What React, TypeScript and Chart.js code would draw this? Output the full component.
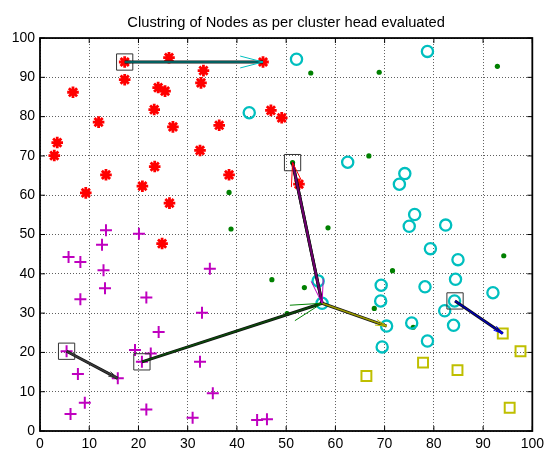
import React, { useEffect, useRef } from "react";
import { Chart, registerables } from "chart.js";

Chart.register(...registerables);

const TITLE = "Clustring of Nodes as per cluster head evaluated";
const axisTicks = [0, 10, 20, 30, 40, 50, 60, 70, 80, 90, 100];

// Red asterisk nodes
const redX = [17.2, 26.2, 45.3, 33.2, 17.2, 32.7, 24.0, 25.4, 6.7, 23.2, 11.9, 27.0, 36.4, 46.9, 49.1, 3.5, 2.9, 32.5, 13.4, 38.4, 23.3, 20.8, 9.3, 26.3, 24.8, 52.6];
const redY = [93.9, 95.0, 93.9, 91.7, 89.4, 88.6, 87.4, 86.5, 86.2, 81.8, 78.6, 77.4, 77.8, 81.6, 79.7, 73.4, 70.1, 71.4, 65.2, 65.2, 67.3, 62.3, 60.6, 58.0, 47.7, 62.8];

// Magenta plus nodes
const magentaX = [13.4, 20.1, 12.6, 5.8, 8.2, 12.9, 34.5, 13.2, 8.2, 21.6, 32.9, 24.1, 5.4, 19.3, 22.5, 20.7, 32.5, 7.7, 15.8, 35.1, 9.1, 21.6, 6.2, 31.0, 44.1, 46.1];
const magentaY = [51.1, 50.2, 47.4, 44.3, 43.0, 40.9, 41.3, 36.3, 33.5, 34.0, 30.1, 25.2, 20.3, 20.6, 19.7, 17.6, 17.6, 14.5, 13.4, 9.6, 7.2, 5.5, 4.3, 3.4, 2.8, 3.0];

// Cyan circle nodes
const cyanX = [52.1, 78.7, 42.5, 62.5, 74.1, 73.0, 76.1, 75.0, 82.4, 79.3, 84.9, 84.4, 78.2, 69.3, 69.2, 56.5, 57.3, 92.0, 84.2, 82.2, 75.5, 70.4, 84.0, 78.7, 69.5];
const cyanY = [94.6, 96.6, 81.0, 68.4, 65.5, 62.8, 55.1, 52.1, 52.4, 46.4, 43.6, 38.6, 36.7, 37.1, 33.1, 38.2, 32.5, 35.2, 33.1, 30.6, 27.5, 26.7, 26.9, 22.9, 21.4];

// Green dot nodes
const greenX = [55.0, 68.9, 92.9, 66.8, 51.3, 58.5, 38.4, 38.8, 47.1, 53.7, 71.6, 94.2, 67.9, 50.2, 75.8];
const greenY = [91.1, 91.3, 92.8, 70.0, 68.3, 51.7, 60.7, 51.4, 38.5, 36.5, 40.8, 44.6, 31.2, 29.9, 26.4];

// Yellow square nodes
const yellowX = [94.0, 97.6, 77.8, 84.8, 66.3, 95.4];
const yellowY = [24.8, 20.3, 17.4, 15.5, 14.0, 5.9];

// Cluster heads (boxed)
const headX = [17.2, 51.3, 5.4, 20.7, 84.3];
const headY = [93.9, 68.3, 20.3, 17.6, 33.1];

// Arrows (from -> to)
const arrowFromX = [17.2, 5.4, 20.7, 57.3, 51.3, 57.3, 84.3];
const arrowFromY = [93.9, 20.3, 17.6, 32.5, 68.3, 32.5, 33.1];
const arrowToX = [45.3, 15.8, 57.3, 70.4, 57.3, 51.3, 94.0];
const arrowToY = [93.9, 13.4, 32.5, 26.7, 32.5, 68.3, 24.8];

const arrowShaftColor = ["#007b7b", "#3a3a3a", "#0b4a0b", "#9a9a00", "#6e006e", "#6e006e", "#0000b0"];
const arrowHeadColor = ["#00bfbf", "#3a3a3a", "#008000", "#bfbf00", "#bf00bf", "#ff0000", "#0000ff"];

const FONT = "'Liberation Sans', Arial, Helvetica, sans-serif";

const pts = (xs: number[], ys: number[]) => xs.map((x, i) => ({ x, y: ys[i] }));

const arrowHeadPlugin = {
  id: "arrowHeads",
  afterDatasetsDraw(chart: any) {
    const ctx = chart.ctx;
    ctx.save();
    for (let i = 0; i < arrowFromX.length; i++) {
      const meta = chart.getDatasetMeta(i);
      const a = meta.data[0];
      const b = meta.data[1];
      if (!a || !b) continue;
      const dx = b.x - a.x;
      const dy = b.y - a.y;
      const L = Math.hypot(dx, dy);
      const ux = dx / L;
      const uy = dy / L;
      const len = 0.165 * L;
      const spread = 0.26 * len;
      const bx = b.x - ux * len;
      const by = b.y - uy * len;
      ctx.strokeStyle = arrowHeadColor[i];
      ctx.lineWidth = 1;
      ctx.beginPath();
      ctx.moveTo(bx - uy * spread, by + ux * spread);
      ctx.lineTo(b.x, b.y);
      ctx.lineTo(bx + uy * spread, by - ux * spread);
      ctx.stroke();
    }
    ctx.restore();
  },
};

const boxPlugin = {
  id: "axesBox",
  afterDraw(chart: any) {
    const { ctx, chartArea } = chart;
    const { left, right, top, bottom } = chartArea;
    const xs = chart.scales.x;
    const ys = chart.scales.y;
    ctx.save();
    ctx.strokeStyle = "#000";
    ctx.lineWidth = 1;
    const tl = 5;
    ctx.beginPath();
    axisTicks.forEach((v) => {
      const px = xs.getPixelForValue(v);
      ctx.moveTo(px, bottom);
      ctx.lineTo(px, bottom - tl);
      ctx.moveTo(px, top);
      ctx.lineTo(px, top + tl);
      const py = ys.getPixelForValue(v);
      ctx.moveTo(left, py);
      ctx.lineTo(left + tl, py);
      ctx.moveTo(right, py);
      ctx.lineTo(right - tl, py);
    });
    ctx.stroke();
    ctx.lineWidth = 1.8;
    ctx.strokeRect(left, top, right - left, bottom - top);
    ctx.restore();
  },
};

export default function App() {
  const ref = useRef<HTMLCanvasElement>(null);

  useEffect(() => {
    const shaftInner = arrowFromX.map((_, i) => ({
      type: "line" as const,
      data: [
        { x: arrowFromX[i], y: arrowFromY[i] },
        { x: arrowToX[i], y: arrowToY[i] },
      ],
      showLine: true,
      borderColor: arrowShaftColor[i],
      borderWidth: 1.6,
      pointRadius: 0,
      fill: false,
    }));
    const shaftOuter = arrowFromX.map((_, i) => ({
      type: "line" as const,
      data: [
        { x: arrowFromX[i], y: arrowFromY[i] },
        { x: arrowToX[i], y: arrowToY[i] },
      ],
      showLine: true,
      borderColor: "#111",
      borderWidth: 3,
      pointRadius: 0,
      fill: false,
    }));

    const datasets: any[] = [
      ...shaftInner,
      ...shaftOuter,
      {
        label: "Cluster heads",
        data: pts(headX, headY),
        pointStyle: "rect",
        pointRadius: 11.5,
        borderColor: "#333",
        backgroundColor: "rgba(0,0,0,0)",
        borderWidth: 1,
      },
      {
        label: "Cluster 1",
        data: pts(redX, redY),
        pointStyle: "star",
        pointRadius: 5.8,
        borderColor: "#ff0000",
        backgroundColor: "#ff0000",
        borderWidth: 2.8,
      },
      {
        label: "Cluster 2",
        data: pts(magentaX, magentaY),
        pointStyle: "cross",
        pointRadius: 6,
        borderColor: "#bf00bf",
        backgroundColor: "#bf00bf",
        borderWidth: 2,
      },
      {
        label: "Cluster 3",
        data: pts(cyanX, cyanY),
        pointStyle: "circle",
        pointRadius: 5.6,
        borderColor: "#00bfbf",
        backgroundColor: "rgba(0,0,0,0)",
        borderWidth: 2.3,
      },
      {
        label: "Cluster 4",
        data: pts(greenX, greenY),
        pointStyle: "circle",
        pointRadius: 2.6,
        borderColor: "#008000",
        backgroundColor: "#008000",
        borderWidth: 0,
      },
      {
        label: "Cluster 5",
        data: pts(yellowX, yellowY),
        pointStyle: "rect",
        pointRadius: 7,
        borderColor: "#bfbf00",
        backgroundColor: "rgba(0,0,0,0)",
        borderWidth: 2,
      },
    ];

    const tickFont = { family: FONT, size: 14 };

    const chart = new Chart(ref.current as HTMLCanvasElement, {
      type: "scatter",
      data: { datasets },
      options: {
        animation: false,
        responsive: false,
        events: [],
        layout: { padding: { left: 0, right: 11, top: 0, bottom: 0 } },
        plugins: {
          legend: { display: false },
          tooltip: { enabled: false },
          title: {
            display: true,
            fullSize: false,
            text: TITLE,
            color: "#000",
            font: { family: FONT, size: 14.7, weight: "normal" },
            padding: { top: 14.2, bottom: 6.2 },
          },
        },
        scales: {
          x: {
            type: "linear",
            min: 0,
            max: 100,
            afterFit: (scale: any) => {
              scale.height = 18;
            },
            afterBuildTicks: (scale: any) => {
              scale.ticks = axisTicks.map((v) => ({ value: v }));
            },
            ticks: { color: "#000", font: tickFont, padding: 5, maxRotation: 0, autoSkip: false },
            grid: { color: "#5e5e5e", lineWidth: 1, drawTicks: false },
            border: { display: false, dash: [1, 2] },
          },
          y: {
            type: "linear",
            min: 0,
            max: 100,
            afterFit: (scale: any) => {
              scale.width = 40;
            },
            afterBuildTicks: (scale: any) => {
              scale.ticks = axisTicks.map((v) => ({ value: v }));
            },
            ticks: { color: "#000", font: tickFont, padding: 5, autoSkip: false },
            grid: { color: "#5e5e5e", lineWidth: 1, drawTicks: false },
            border: { display: false, dash: [1, 2] },
          },
        },
      },
      plugins: [arrowHeadPlugin, boxPlugin],
    } as any);

    return () => chart.destroy();
  }, []);

  return (
    <div style={{ position: "fixed", left: 0, top: 0, width: 549, height: 449, background: "#fff" }}>
      <canvas ref={ref} width={549} height={449} style={{ display: "block", width: 549, height: 449 }} />
    </div>
  );
}
